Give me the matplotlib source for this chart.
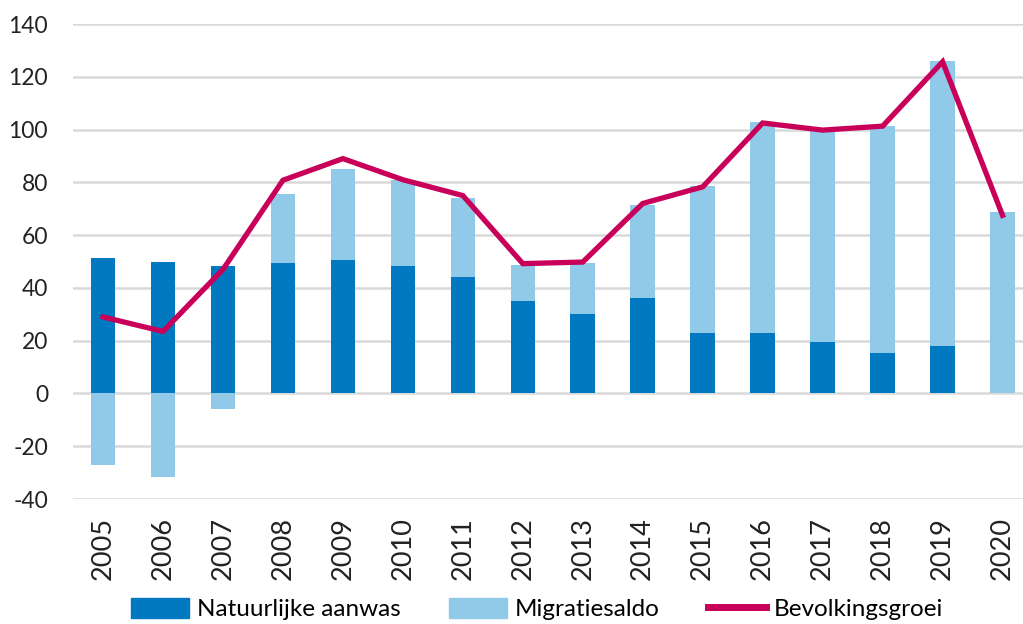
import numpy as np
from matplotlib import pyplot as plt
from matplotlib.patches import Patch
from matplotlib.lines import Line2D

plt.rcParams['font.family'] = ['Lato', 'DejaVu Sans']
plt.rcParams['axes.unicode_minus'] = False

# data
jaren = ['2005', '2006', '2007', '2008', '2009', '2010', '2011', '2012',
         '2013', '2014', '2015', '2016', '2017', '2018', '2019', '2020']
natuurlijk = [51.5, 49.8, 48.3, 49.3, 50.6, 48.3, 44.1, 34.9,
              30.2, 36.0, 23.1, 23.1, 19.5, 15.2, 17.8, 0.0]
migratie = [-27.0, -31.5, -5.8, 26.2, 34.4, 32.5, 29.9, 13.9,
            19.1, 35.3, 55.5, 79.6, 80.0, 86.3, 108.2, 68.7]
groei = [29.0, 23.5, 47.0, 80.8, 89.0, 81.0, 75.0, 49.2,
         49.8, 72.0, 78.3, 102.5, 99.8, 101.3, 125.7, 67.5]

donker = '#0079C1'
licht = '#91C9E8'
rood = '#C8005A'

x = np.arange(len(jaren))
onder = [n if m > 0 else 0 for n, m in zip(natuurlijk, migratie)]

fig = plt.figure(figsize=(10.23, 6.24), dpi=100)
ax = fig.add_axes([0.0714, 0.2003, 0.935, 0.7612])

breedte = 0.41
ax.bar(x, natuurlijk, breedte, color=donker, zorder=2)
ax.bar(x, migratie, breedte, bottom=onder, color=licht, zorder=2)
ax.plot(x, groei, color=rood, linewidth=3.8, zorder=3, solid_joinstyle='miter')

ax.set_ylim(-40, 140)
ax.set_yticks(range(-40, 141, 20))
ax.set_xlim(-0.5, 15.45)
ax.set_xticks(x)
ax.set_xticklabels(jaren, rotation=90)
ax.grid(axis='y', color='#D9D9D9', linewidth=1.8, zorder=0)
ax.set_axisbelow(True)
for s in ax.spines.values():
    s.set_visible(False)
ax.tick_params(axis='y', length=0, pad=18, labelsize=16.5, colors='#222222')
ax.tick_params(axis='x', length=0, pad=13, labelsize=19.5, colors='#222222')

handles = [Patch(color=donker), Patch(color=licht),
           Line2D([0], [0], color=rood, linewidth=5)]
labels = ['Natuurlijke aanwas', 'Migratiesaldo', 'Bevolkingsgroei']
fig.legend(handles, labels, loc='center', bbox_to_anchor=(0.525, 0.024), ncol=3,
           frameon=False, fontsize=17.5, handlelength=2.4, handleheight=0.9,
           handletextpad=0.3, columnspacing=2.0)

fig.savefig('out.png', dpi=100)
